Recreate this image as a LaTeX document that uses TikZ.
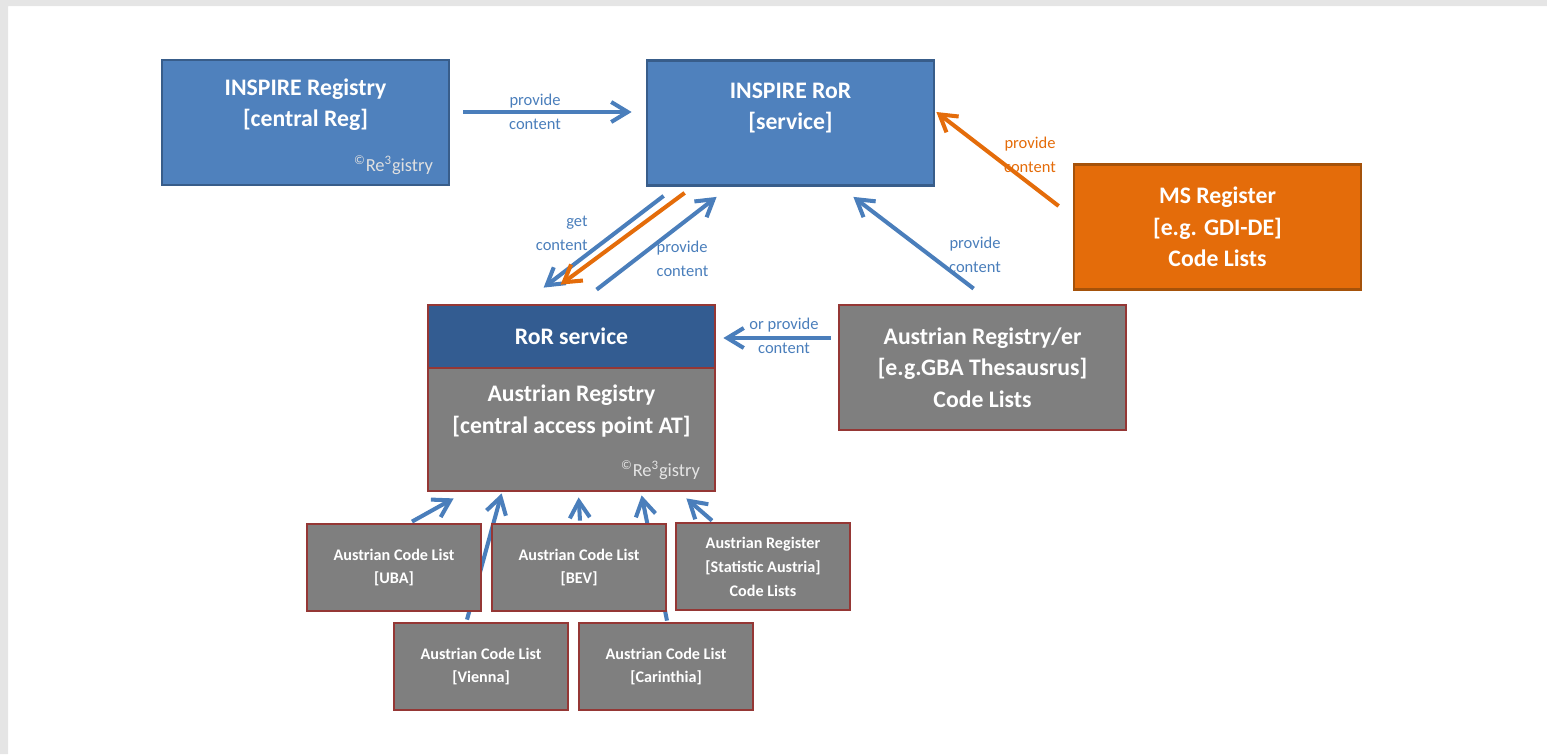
\documentclass[tikz,border=0pt]{standalone}
\usepackage{fontspec}
\setmainfont{Carlito}
\usetikzlibrary{arrows.meta,calc,positioning,backgrounds}

\definecolor{regblue}{HTML}{4F81BD}
\definecolor{regblueline}{HTML}{385D8A}
\definecolor{rorblue}{HTML}{335C91}
\definecolor{reggray}{HTML}{7F7F7F}
\definecolor{regred}{HTML}{953735}
\definecolor{msorange}{HTML}{E46C0A}
\definecolor{msorangeline}{HTML}{A5520A}
\definecolor{arrblue}{HTML}{4A7EBB}
\definecolor{pageframe}{HTML}{E5E5E5}

\begin{document}
\begin{tikzpicture}[x=0.02cm,y=-0.02cm,
    box/.style={draw,line width=1.6pt,minimum width=5.74cm,minimum height=2.5cm,
      text=white,align=center,font=\bfseries\fontsize{13.5}{18}\selectfont},
    bluebox/.style={box,fill=regblue,draw=regblueline},
    graybox/.style={box,fill=reggray,draw=regred},
    orangebox/.style={box,fill=msorange,draw=msorangeline},
    listbox/.style={graybox,minimum width=3.48cm,minimum height=1.74cm,
      font=\bfseries\fontsize{9.2}{13.6}\selectfont},
    title/.style={text=white,align=center,font=\bfseries\fontsize{13.5}{18}\selectfont},
    copyr/.style={text=black!12,font=\fontsize{10.5}{12}\selectfont,inner sep=0pt},
    arr/.style={arrblue,line width=2.3pt,-{Straight Barb[length=3.3mm,width=4mm]}},
    orarr/.style={arr,msorange},
    lbl/.style={text=arrblue,align=center,font=\fontsize{9.4}{13.6}\selectfont,inner sep=0pt},
    orlbl/.style={lbl,text=msorange}]
\useasboundingbox (0,0) rectangle (1547,754);
\fill[pageframe] (0,0) rectangle (1547,6) (0,0) rectangle (8,754);

% registries
\node[bluebox] (inspireReg) at (305.5,122.5) {};
\node[title] (inspireRegTitle) at ([yshift=0.36cm]inspireReg.center) {INSPIRE Registry\\{[central Reg]}};
\node[copyr,anchor=base east] (inspireRegCopy) at ($(inspireReg.south east)+(-17,-15)$)
  {\textsuperscript{\textcopyright}Re\textsuperscript{3}gistry};
\node[bluebox] (inspireRoR) at (790.5,123) {};
\node[title] (inspireRoRTitle) at ([yshift=0.3cm]inspireRoR.center) {INSPIRE RoR\\{[service]}};
\node[orangebox] (msReg) at (1217.5,227) {MS Register\\{[e.g. GDI-DE]}\\Code Lists};

\node[graybox,minimum height=2.46cm] (atReg) at (571.5,429.5) {};
\node[title] (atRegTitle) at ([yshift=0.37cm]atReg.center) {Austrian Registry\\{[central access point AT]}};
\node[copyr,text=black!10,anchor=base east] (atRegCopy) at ($(atReg.south east)+(-16,-16)$)
  {\textsuperscript{\textcopyright}Re\textsuperscript{3}gistry};
\node[graybox,fill=rorblue,minimum height=1.26cm] (rorService) at (571.5,336.5) {RoR service};
\node[graybox] (atRegEr) at (982.5,367.5) {Austrian Registry/er\\{[e.g.GBA Thesausrus]}\\Code Lists};

% code lists
\node[listbox] (uba) at (394,567.5) {Austrian Code List\\{[UBA]}};
\node[listbox] (bev) at (579,567.5) {Austrian Code List\\{[BEV]}};
\node[listbox] (stat) at (763,566.5) {Austrian Register\\{[Statistic Austria]}\\Code Lists};
\node[listbox] (vienna) at (481,666.5) {Austrian Code List\\{[Vienna]}};
\node[listbox] (carinthia) at (666,666.5) {Austrian Code List\\{[Carinthia]}};

% connectors
\draw[arr] ($(inspireReg.east)+(13,-10.5)$) -- node[lbl,midway,xshift=-0.25cm] (lblReg) {provide\\content}
  ($(inspireRoR.west)+(-14,-11)$);
\draw[arr] ($(inspireRoR.south west)+(18,9)$) -- node[lbl,align=right,anchor=east,midway,xshift=-0.28cm,yshift=0.16cm] (lblGet) {get\\content}
  ($(rorService.north west)+(117,-16)$);
\draw[orarr] ($(inspireRoR.south west)+(39,6)$) -- ($(rorService.north west)+(134,-19)$);
\draw[arr] ($(rorService.north west)+(170,-14)$) -- node[lbl,align=left,anchor=west,midway,xshift=-0.04cm,yshift=-0.31cm] (lblProv) {provide\\content}
  ($(inspireRoR.south west)+(71,10)$);
\draw[orarr] ($(msReg.west)+(-14,-21)$) -- node[orlbl,midway,xshift=0.65cm,yshift=0.08cm] (lblMs) {provide\\content}
  ($(inspireRoR.east)+(1,-11)$);
\draw[arr] ($(atRegEr.north west)+(136,-15)$) -- node[lbl,midway,xshift=1.23cm,yshift=-0.24cm] (lblAt) {provide\\content}
  ($(inspireRoR.south east)+(-82,10)$);
\draw[arr] ($(rorService.east -| atRegEr.west)+(-7,1.5)$) -- node[lbl,midway,xshift=0.14cm,yshift=0.04cm] (lblOr) {or provide\\content}
  ($(rorService.east)+(7,1.5)$);

\begin{scope}[on background layer]
\draw[arr] ($(uba.north)+(18,-1)$) -- ($(atReg.south west)+(27,6)$);
\draw[arr] ($(vienna.north)+(-14,-2)$) -- ($(atReg.south west)+(75,1)$);
\draw[arr] ($(bev.north)+(1,-2)$) -- ($(atReg.south west)+(152,5)$);
\draw[arr] ($(carinthia.north)+(1,-1)$) -- ($(atReg.south west)+(215,3)$);
\draw[arr] ($(stat.north)+(-51,-1)$) -- ($(atReg.south east)+(-30,6)$);
\end{scope}
\end{tikzpicture}
\end{document}
